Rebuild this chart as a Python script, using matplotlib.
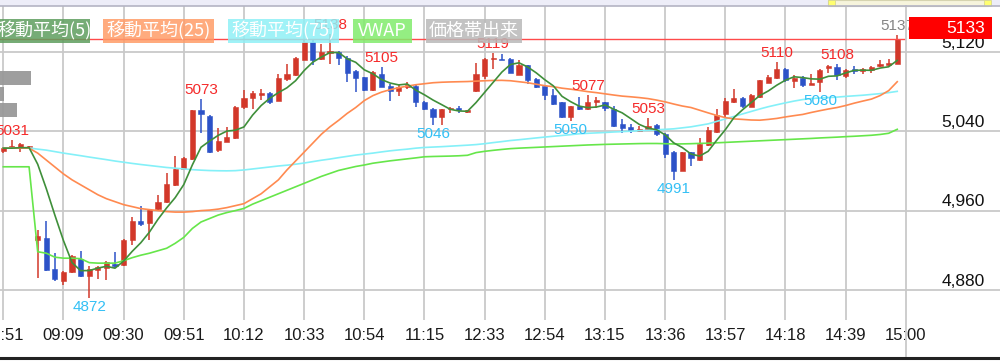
import matplotlib
matplotlib.use("Agg")
import matplotlib.pyplot as plt
from matplotlib.patches import Rectangle
from matplotlib.lines import Line2D
from matplotlib.transforms import blended_transform_factory
import numpy as np

# ---------------- data ----------------
time_labels = ["14:51", "09:09", "09:30", "09:51", "10:12", "10:33", "10:54", "11:15",
               "12:33", "12:54", "13:15", "13:36", "13:57", "14:18", "14:39", "15:00"]

opens = [5020, 5023, 5024, 5024, 4930, 4932, 4901, 4889, 4898, 4911,
         4894, 4900, 4902, 4906, 4905, 4930, 4950, 4947, 4962, 4969,
         4986, 5002, 5012, 5061, 5055, 5021, 5029, 5033, 5065, 5074,
         5077, 5079, 5071, 5093, 5097, 5112, 5130, 5113, 5119, 5120,
         5114, 5101, 5095, 5082, 5098, 5086, 5081, 5085, 5086, 5070,
         5063, 5054, 5062, 5064, 5059, 5081, 5096, 5113, 5113, 5113,
         5097, 5107, 5093, 5086, 5077, 5070, 5054, 5066, 5062, 5070,
         5070, 5063, 5047, 5044, 5040, 5042, 5046, 5037, 5019, 5000,
         5019, 5011, 5026, 5039, 5057, 5070, 5074, 5065, 5075, 5089,
         5094, 5103, 5091, 5094, 5087, 5090, 5104, 5105, 5096, 5103,
         5101, 5102, 5106, 5107, 5108]
highs = [5024, 5031, 5028, 5025, 4940, 4950, 4917, 4899, 4915, 4919,
         4904, 4904, 4909, 4918, 4931, 4954, 4965, 4962, 4976, 4998,
         5015, 5014, 5061, 5073, 5056, 5043, 5044, 5066, 5082, 5081,
         5083, 5080, 5098, 5108, 5115, 5132, 5132, 5128, 5138, 5121,
         5116, 5102, 5095, 5101, 5105, 5088, 5087, 5090, 5087, 5071,
         5064, 5063, 5065, 5066, 5061, 5109, 5114, 5119, 5118, 5114,
         5112, 5107, 5094, 5086, 5083, 5070, 5066, 5075, 5077, 5075,
         5070, 5066, 5052, 5047, 5045, 5053, 5047, 5038, 5020, 5019,
         5019, 5033, 5044, 5062, 5074, 5083, 5075, 5078, 5092, 5097,
         5110, 5104, 5097, 5096, 5098, 5103, 5107, 5108, 5103, 5106,
         5104, 5106, 5112, 5113, 5137]
lows = [5018, 5022, 5019, 5024, 4892, 4899, 4889, 4885, 4897, 4893,
        4872, 4891, 4890, 4902, 4904, 4925, 4944, 4930, 4961, 4968,
        4985, 5001, 5011, 5038, 5018, 5019, 5029, 5032, 5062, 5062,
        5072, 5068, 5071, 5091, 5096, 5112, 5107, 5112, 5108, 5107,
        5090, 5080, 5081, 5081, 5085, 5071, 5076, 5083, 5065, 5061,
        5046, 5046, 5058, 5058, 5058, 5080, 5093, 5103, 5112, 5099,
        5097, 5088, 5084, 5072, 5067, 5053, 5050, 5061, 5061, 5064,
        5060, 5044, 5038, 5038, 5039, 5041, 5035, 5013, 4991, 5000,
        5005, 5010, 5025, 5038, 5054, 5069, 5064, 5065, 5074, 5089,
        5093, 5090, 5084, 5085, 5087, 5080, 5099, 5092, 5094, 5098,
        5098, 5099, 5105, 5106, 5108]
closes = [5023, 5025, 5027, 5025, 4934, 4900, 4891, 4898, 4914, 4894,
          4901, 4903, 4908, 4904, 4930, 4950, 4946, 4961, 4969, 4987,
          5002, 5013, 5061, 5057, 5019, 5030, 5034, 5065, 5074, 5079,
          5079, 5070, 5094, 5098, 5114, 5130, 5112, 5120, 5121, 5114,
          5099, 5094, 5082, 5100, 5085, 5081, 5085, 5086, 5070, 5062,
          5054, 5062, 5063, 5061, 5061, 5098, 5113, 5114, 5112, 5099,
          5107, 5092, 5085, 5077, 5068, 5054, 5066, 5062, 5070, 5071,
          5064, 5045, 5043, 5041, 5042, 5045, 5037, 5017, 5000, 5019,
          5013, 5027, 5041, 5056, 5071, 5074, 5066, 5077, 5092, 5095,
          5103, 5092, 5094, 5087, 5088, 5102, 5106, 5097, 5102, 5101,
          5103, 5105, 5108, 5109, 5133]

ma5 = [5023, 5023, 5023.5, 5023.5, 5006.8, 4982.2, 4955.4, 4929.7, 4907.5, 4899.4,
       4899.5, 4902, 4903.8, 4901.9, 4909.1, 4918.9, 4927.6, 4938.3, 4951.3, 4962.7,
       4973.1, 4986.3, 5006.2, 5023.9, 5030.2, 5035.9, 5040.2, 5041.1, 5044.4, 5056.3,
       5066, 5073.3, 5079, 5083.9, 5091, 5101.3, 5109.7, 5114.9, 5119.4, 5119.5,
       5113.2, 5109.6, 5102, 5098, 5092.2, 5088.7, 5086.8, 5087.7, 5081.5, 5076.8,
       5071.5, 5066.9, 5062.2, 5060.5, 5060.2, 5069, 5079.3, 5089.5, 5099.7, 5107.4,
       5109.1, 5104.9, 5099, 5092, 5085.8, 5075.3, 5069.9, 5065.4, 5063.9, 5064.5,
       5066.5, 5062.4, 5058.6, 5052.8, 5046.9, 5043.2, 5041.6, 5036.4, 5028.3, 5023.6,
       5017.1, 5015, 5019.8, 5031, 5041.6, 5053.8, 5061.7, 5068.9, 5076, 5080.7,
       5086.6, 5091.6, 5095, 5094.2, 5092.9, 5092.6, 5095.5, 5095.9, 5098.9, 5101.5,
       5101.7, 5101.5, 5103.8, 5105.1, 5111.5]
ma25 = [5023, 5023, 5023, 5023, 5018, 5011, 5004, 4997, 4991, 4986,
        4981, 4976, 4972, 4969, 4966, 4964, 4962, 4961, 4960, 4959,
        4958.5, 4958.5, 4959, 4960, 4960.5, 4961.5, 4963, 4965, 4967, 4972,
        4977, 4984, 4991, 5001, 5010, 5019, 5028, 5037, 5044.5, 5051,
        5058, 5064, 5071, 5076, 5079.5, 5082, 5084, 5085.6, 5087, 5088,
        5089, 5089.5, 5089.8, 5090, 5090.2, 5090.6, 5091, 5091.3, 5091.4, 5091,
        5090, 5089, 5087.5, 5086, 5085, 5083.5, 5082.5, 5081.3, 5080, 5079,
        5077.8, 5076.6, 5075.5, 5074.8, 5074, 5073, 5071.5, 5069.7, 5067.5, 5065.5,
        5064, 5061.3, 5058.6, 5056, 5053.8, 5052.5, 5052, 5051.4, 5051.2, 5052,
        5053, 5054.5, 5055.8, 5057, 5059, 5060.8, 5062.5, 5064, 5066, 5068.4,
        5070.5, 5072.5, 5076, 5081, 5090]
ma75 = [5023.3, 5023.3, 5023.3, 5023.2, 5022, 5021, 5019.5, 5018, 5016.7, 5015.4,
        5014, 5012.7, 5011.4, 5010, 5008.8, 5007.6, 5006.5, 5005.5, 5004.5, 5003.5,
        5002.8, 5002, 5001.3, 5000.8, 5000.4, 5000.2, 5000.1, 5000.3, 5001, 5002,
        5003, 5004, 5005, 5005.8, 5006.8, 5008, 5009.4, 5010.8, 5012, 5013.4,
        5014.7, 5016, 5017, 5018, 5019.2, 5020.3, 5021.2, 5022, 5023, 5023.7,
        5024.1, 5024.5, 5025, 5025.5, 5026, 5026.6, 5027.5, 5028.6, 5029.6, 5030.7,
        5031.5, 5032.4, 5033.3, 5034.2, 5035, 5035.8, 5036.6, 5037.5, 5038, 5038.4,
        5038.8, 5039.3, 5039.7, 5040.1, 5040.6, 5041, 5041.5, 5042, 5042.5, 5043.5,
        5044.5, 5046, 5047.5, 5050, 5052.5, 5055, 5057.5, 5060, 5062.5, 5064.8,
        5066.8, 5068.7, 5070.5, 5072, 5073, 5073.6, 5074, 5074.5, 5075.2, 5075.8,
        5076.4, 5077.2, 5078, 5079, 5080.3]
vwap = [5004.2, 5004.2, 5004.2, 5004.2, 4918.5, 4917, 4913, 4912, 4912, 4911.5,
        4907.5, 4907, 4907, 4907, 4909.5, 4912.5, 4915, 4917, 4919.5, 4922,
        4927, 4933, 4942, 4948.5, 4952, 4955.5, 4958, 4960, 4962.2, 4966.5,
        4970, 4973.5, 4977, 4980.5, 4984, 4987.5, 4991, 4994.5, 4997.5, 5000.5,
        5002.5, 5004.5, 5006, 5007.8, 5009, 5010.2, 5011.2, 5012.2, 5013.2, 5014.3,
        5014.6, 5014.8, 5015, 5015.3, 5015.8, 5018.5, 5019.8, 5020.8, 5021.7, 5022.5,
        5023, 5023.4, 5023.8, 5024.2, 5024.6, 5025, 5025.4, 5025.8, 5026.2, 5026.5,
        5026.8, 5027, 5027.2, 5027.4, 5027.6, 5027.7, 5027.7, 5027.5, 5027.2, 5027.3,
        5027.5, 5027.8, 5028, 5028.4, 5028.8, 5029.2, 5029.6, 5030, 5030.4, 5030.8,
        5031.2, 5031.6, 5032, 5032.4, 5032.8, 5033.3, 5033.7, 5034.1, 5034.6, 5035,
        5035.5, 5036, 5036.8, 5038, 5042]

high_mark_idx = [1, 23, 38, 44, 57, 68, 75, 90, 97]
high_mark_val = [5031, 5073, 5138, 5105, 5119, 5077, 5053, 5110, 5108]
low_mark_idx = [10, 50, 66, 78, 95]
low_mark_val = [4872, 5046, 5050, 4991, 5080]
last_high_idx = 104
last_high_val = 5137
current_price = 5133

ytick_vals = [4880, 4960, 5040, 5120]
ytick_labels = ["4,880", "4,960", "5,040", "5,120"]

vp_low = [5054, 5071, 5087]
vp_high = [5069, 5085, 5101]
vp_volume = [17, 4, 31]

legend_labels = ["移動平均(5)", "移動平均(25)", "移動平均(75)", "VWAP", "価格帯出来"]

# ---------------- style ----------------
W, H = 1000, 361
PR, PT, PB = 906, 6, 320
GRID = "#c9c9c9"
UP = "#d2382a"
DN = "#2c52c8"
C_MA5 = "#3f8f3a"
C_MA25 = "#ff8a50"
C_MA75 = "#84f0f8"
C_VWAP = "#66e64a"
NUM_FONT = ["Liberation Sans", "DejaVu Sans"]
CJK_FONT = ["Noto Sans CJK JP", "DejaVu Sans"]

fig = plt.figure(figsize=(W / 100, H / 100), dpi=100)
fig.patch.set_facecolor("white")

ymin, ymax = 4849.63, 5166.41
ax = fig.add_axes([0, 1 - PB / H, PR / W, (PB - PT) / H])
ax.set_xlim(-0.384, 105.02)
ax.set_ylim(ymin, ymax)
ax.set_axis_off()

ax2 = fig.add_axes([PR / W, 1 - PB / H, (W - PR) / W, (PB - PT) / H], zorder=5)
ax2.set_xlim(0, 1)
ax2.set_ylim(ymin, ymax)
ax2.set_axis_off()

# grid
for v in ytick_vals:
    ax.axhline(v, color=GRID, lw=1.3, zorder=0)
    ax2.axhline(v, color=GRID, lw=1.3, zorder=0)
for k in range(len(time_labels) - 1):
    ax.axvline(7 * k, color=GRID, lw=1.3, zorder=0)

# volume profile
bt = blended_transform_factory(ax.transAxes, ax.transData)
for lo, hi, vol in zip(vp_low, vp_high, vp_volume):
    ax.add_patch(Rectangle((0, lo), vol * 0.0011, hi - lo, transform=bt,
                           facecolor="#999999", edgecolor="none", alpha=0.95, zorder=6))

# candles
x = np.arange(len(opens))
o = np.array(opens, float); h = np.array(highs, float)
l = np.array(lows, float); c = np.array(closes, float)
cols = np.where(c >= o, UP, DN)
ax.vlines(x, l, h, colors=cols, lw=1.1, zorder=3)
bottom = np.minimum(o, c)
height = np.maximum(np.abs(c - o), 1.3)
ax.bar(x, height, bottom=bottom, width=0.6, color=cols, edgecolor=cols, lw=0.4, zorder=4)

# lines
ax.plot(x, vwap, color=C_VWAP, lw=1.2, zorder=5)
ax.plot(x, ma75, color=C_MA75, lw=1.2, zorder=5)
ax.plot(x, ma25, color=C_MA25, lw=1.2, zorder=5)
ax.plot(x, ma5, color=C_MA5, lw=1.2, zorder=5)

# current price line
ax.axhline(current_price, color="#ff4a4a", lw=1.0, zorder=6)

# high/low labels
for i, v in zip(high_mark_idx, high_mark_val):
    ax.annotate(str(v), (i, v), xytext=(0, 1.5), textcoords="offset points",
                ha="center", va="bottom", color="#f52a2a", fontsize=11,
                family=NUM_FONT, zorder=7, annotation_clip=False)
for i, v in zip(low_mark_idx, low_mark_val):
    ax.annotate(str(v), (i, v), xytext=(0, -1.5), textcoords="offset points",
                ha="center", va="top", color="#33c0f5", fontsize=11,
                family=NUM_FONT, zorder=7, annotation_clip=False)
ax.annotate(str(last_high_val), (last_high_idx, last_high_val), xytext=(0, 1.5),
            textcoords="offset points", ha="center", va="bottom", color="#858585",
            fontsize=11, family=NUM_FONT, zorder=7, annotation_clip=False)

# right axis labels
for v, s in zip(ytick_vals, ytick_labels):
    ax2.annotate(s, (0.84, v), xytext=(0, 3), textcoords="offset points",
                 ha="right", va="baseline", fontsize=12.5, color="#111111", family=NUM_FONT)

# current price box
ax2.add_patch(Rectangle((3 / 94, current_price), 83 / 94, 22.2, facecolor="#ff0000",
                        edgecolor="none", zorder=8, clip_on=False))
ax2.text(0.84, current_price + 11.1, str(current_price), ha="right", va="center",
         color="white", fontsize=12.5, family=NUM_FONT, zorder=9, clip_on=False)

# time labels
tb = blended_transform_factory(ax.transData, fig.transFigure)
for k, s in enumerate(time_labels):
    ax.text(7 * k, 1 - 336 / H, s, transform=tb, ha="center", va="center",
            fontsize=12, color="#1a1a1a", family=NUM_FONT, clip_on=False)

# separator, bottom frame, top band
fig.add_artist(Line2D([PR / W, PR / W], [1 - PT / H, 1 - 357 / H], color=GRID, lw=1.3))
fig.add_artist(Line2D([0, 1], [1 - 357.5 / H, 1 - 357.5 / H], color="#222222", lw=2.2))
fig.add_artist(Rectangle((0, 1 - 6 / H), 1, 6 / H, transform=fig.transFigure,
                         facecolor="#ededf8", edgecolor="none"))
fig.add_artist(Line2D([0, 1], [1 - 6 / H, 1 - 6 / H], color="#b4b4c4", lw=1.2))
fig.add_artist(Rectangle((828 / W, 1 - 6 / H), 160 / W, 6 / H, transform=fig.transFigure,
                         facecolor="#f6f4dc", edgecolor="#d6d4b0", lw=0.8))
for xs in (828, 984):
    fig.add_artist(Rectangle((xs / W, 1 - 6 / H), 7 / W, 6 / H, transform=fig.transFigure,
                             facecolor="#ffff70", edgecolor="#d8d890", lw=0.6))

# legend boxes
boxes = [(-8, 90), (103, 214), (228, 339), (353, 412), (426, 522)]
box_cols = ["#5e9e5e", "#ff9c68", "#8ff0f6", "#82ec6c", "#b9b9b9"]
for (x0, x1), col, lab in zip(boxes, box_cols, legend_labels):
    fig.add_artist(Rectangle((x0 / W, 1 - 43.3 / H), (x1 - x0) / W, 24 / H,
                             transform=fig.transFigure, facecolor=col, edgecolor="none",
                             alpha=0.85, zorder=10))
    fig.text(((x0 + x1) / 2 + (4 if x0 < 0 else 0)) / W, 1 - 31.3 / H, lab, ha="center", va="center",
             color="white", fontsize=13, family=CJK_FONT, zorder=11)

fig.savefig("out.png", dpi=100)
